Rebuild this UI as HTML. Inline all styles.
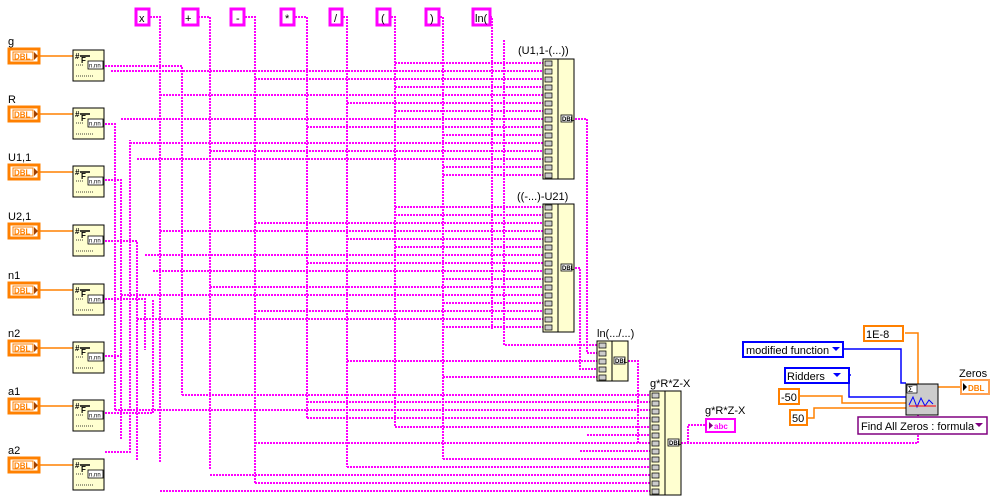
<!DOCTYPE html>
<html><head><meta charset="utf-8"><style>
body{margin:0;background:#fff;width:1001px;height:504px;overflow:hidden}
svg{display:block;font-family:"Liberation Sans",sans-serif}
.w{fill:none;stroke:#ff00ff;stroke-width:2;stroke-dasharray:2 1}
.o{fill:none;stroke:#ff8000;stroke-width:1.5}
.b{fill:none;stroke:#0000ff;stroke-width:1.5}
.cv{fill:#ffffd0;stroke:#000;stroke-width:1}
</style></head><body>
<svg width="1001" height="504" xmlns="http://www.w3.org/2000/svg" font-size="11" fill="#000">
<defs>
<g id="ctl">
<path class="o" d="M40 56H73"/>
<rect x="9" y="49" width="30" height="14" fill="#fff" stroke="#ff8000" stroke-width="3"/>
<rect x="13" y="52" width="20" height="8" fill="none" stroke="#ff8000" stroke-width="1"/>
<text x="14" y="59.5" font-size="8" font-weight="bold" fill="#ff8000">DBL</text>
<path d="M34 52l4 4-4 4z" fill="#a04000"/>
<rect x="73" y="50" width="31" height="31" class="cv"/>
<text x="75" y="59" font-size="8" font-weight="bold">#</text>
<text x="81" y="63" font-size="8" font-weight="bold">F</text>
<path d="M80 56h10" stroke="#000" stroke-width="1.5"/>
<rect x="88" y="61" width="15" height="8" fill="#fff" stroke="#000" stroke-width=".8"/>
<text x="89" y="67.5" font-size="6">n.nn</text>
<path d="M76 65h8M76 76h18" stroke="#000" stroke-width=".8" stroke-dasharray="1 1"/>
</g>
</defs>
<!-- wires -->
<g class="w">
<path d="M150 17H160V463"/>
<path d="M198 17H210V470"/>
<path d="M245 17H255V483"/>
<path d="M295 17H307V418"/>
<path d="M343 17H347V467"/>
<path d="M391 17H395V427"/>
<path d="M440 17H443V459"/>
<path d="M490 17H492V330"/>
<path d="M105 66H182V395"/>
<path d="M105 124H115V410"/>
<path d="M105 180H121V440"/>
<path d="M105 241H137V460"/>
<path d="M105 299H145V350"/>
<path d="M105 356H121"/>
<path d="M105 413H153V300"/>
<path d="M105 452H130V140"/>
<path d="M395 63H543"/><path d="M111 71H543"/><path d="M255 79H543"/><path d="M395 87H543"/>
<path d="M160 95H543"/><path d="M347 103H543"/><path d="M395 111H543"/><path d="M121 119H543"/>
<path d="M307 127H543"/><path d="M443 135H543"/><path d="M130 143H543"/><path d="M210 151H543"/>
<path d="M137 159H543"/><path d="M443 167H543"/><path d="M443 175H543"/>
<path d="M395 207H543"/><path d="M395 215H543"/><path d="M255 223H543"/><path d="M160 231H543"/>
<path d="M347 239H543"/><path d="M395 247H543"/><path d="M145 255H543"/><path d="M307 263H543"/>
<path d="M153 271H543"/><path d="M443 279H543"/><path d="M210 287H543"/><path d="M121 295H543"/>
<path d="M443 303H543"/><path d="M255 311H543"/><path d="M137 319H543"/><path d="M443 327H543"/>
<path d="M575 119H587V353H597"/>
<path d="M575 268H580V369H597"/>
<path d="M504 40V345H597"/>
<path d="M347 361H597"/><path d="M443 377H597"/>
<path d="M628 361H638V443H650"/>
<path d="M182 395H650"/><path d="M307 402H650"/><path d="M115 410H650"/><path d="M307 418H650"/>
<path d="M395 427H650"/><path d="M587 435H650"/><path d="M255 443H650"/><path d="M580 451H650"/>
<path d="M443 459H650"/><path d="M347 467H650"/><path d="M210 475H650"/><path d="M255 483H650"/><path d="M160 491H650"/>
<path d="M681 443H918V415"/>
<path d="M688 443V425H705"/>
</g>
<!-- top constants -->
<g fill="#fff" stroke="#ff00ff" stroke-width="3">
<rect x="136" y="9" width="13" height="16"/><rect x="183" y="9" width="15" height="16"/>
<rect x="231" y="9" width="13" height="16"/><rect x="281" y="9" width="13" height="16"/>
<rect x="330" y="9" width="12" height="16"/><rect x="377" y="9" width="13" height="16"/>
<rect x="426" y="9" width="13" height="16"/><rect x="473" y="9" width="17" height="16"/>
</g>
<text x="139" y="22">x</text><text x="185" y="22">+</text><text x="236" y="22">-</text>
<text x="285" y="22">*</text><text x="334" y="22">/</text><text x="381" y="22">(</text>
<text x="430" y="22">)</text><text x="475" y="22">ln(</text>
<!-- left controls -->
<text x="8" y="45">g</text><use href="#ctl"/>
<text x="8" y="103">R</text><use href="#ctl" y="58"/>
<text x="8" y="161">U1,1</text><use href="#ctl" y="116"/>
<text x="8" y="220">U2,1</text><use href="#ctl" y="175"/>
<text x="8" y="279">n1</text><use href="#ctl" y="234"/>
<text x="8" y="337">n2</text><use href="#ctl" y="292"/>
<text x="8" y="395">a1</text><use href="#ctl" y="350"/>
<text x="8" y="454">a2</text><use href="#ctl" y="409"/>
<!-- formula nodes -->
<text x="518" y="54">(U1,1-(...))</text>
<rect x="543" y="59" width="31" height="120" class="cv"/><line x1="558" y1="59" x2="558" y2="179" stroke="#000"/>
<rect x="561" y="115" width="11" height="7" fill="#fff" stroke="#000" stroke-width=".8"/><text x="562" y="121" font-size="6" font-weight="bold">DBL</text>
<text x="517" y="200">((-...)-U21)</text>
<rect x="543" y="204" width="31" height="128" class="cv"/><line x1="558" y1="204" x2="558" y2="332" stroke="#000"/>
<rect x="561" y="264" width="11" height="7" fill="#fff" stroke="#000" stroke-width=".8"/><text x="562" y="270" font-size="6" font-weight="bold">DBL</text>
<text x="597" y="337">ln(.../...)</text>
<rect x="597" y="341" width="31" height="40" class="cv"/><line x1="612" y1="341" x2="612" y2="381" stroke="#000"/>
<rect x="614" y="357" width="11" height="7" fill="#fff" stroke="#000" stroke-width=".8"/><text x="615" y="363" font-size="6" font-weight="bold">DBL</text>
<text x="650" y="387">g*R*Z-X</text>
<rect x="650" y="391" width="31" height="104" class="cv"/><line x1="665" y1="391" x2="665" y2="495" stroke="#000"/>
<rect x="668" y="439" width="11" height="7" fill="#fff" stroke="#000" stroke-width=".8"/><text x="669" y="445" font-size="6" font-weight="bold">DBL</text>
<g fill="#ccc" stroke="#000" stroke-width=".7">
<path d="M545 61h7v5h-7z M545 69h7v5h-7z M545 77h7v5h-7z M545 85h7v5h-7z M545 93h7v5h-7z M545 101h7v5h-7z M545 109h7v5h-7z M545 117h7v5h-7z M545 125h7v5h-7z M545 133h7v5h-7z M545 141h7v5h-7z M545 149h7v5h-7z M545 157h7v5h-7z M545 165h7v5h-7z M545 173h7v5h-7z"/>
<path d="M545 205h7v5h-7z M545 213h7v5h-7z M545 221h7v5h-7z M545 229h7v5h-7z M545 237h7v5h-7z M545 245h7v5h-7z M545 253h7v5h-7z M545 261h7v5h-7z M545 269h7v5h-7z M545 277h7v5h-7z M545 285h7v5h-7z M545 293h7v5h-7z M545 301h7v5h-7z M545 309h7v5h-7z M545 317h7v5h-7z M545 325h7v5h-7z"/>
<path d="M599 343h7v5h-7z M599 351h7v5h-7z M599 359h7v5h-7z M599 367h7v5h-7z M599 375h7v5h-7z"/>
<path d="M652 393h7v5h-7z M652 401h7v5h-7z M652 409h7v5h-7z M652 417h7v5h-7z M652 425h7v5h-7z M652 433h7v5h-7z M652 441h7v5h-7z M652 449h7v5h-7z M652 457h7v5h-7z M652 465h7v5h-7z M652 473h7v5h-7z M652 481h7v5h-7z M652 489h7v5h-7z"/>
</g>
<!-- indicator -->
<text x="705" y="414">g*R*Z-X</text>
<rect x="706" y="419" width="29" height="13" fill="#fff" stroke="#ff00ff" stroke-width="2"/>
<text x="714" y="429" font-size="8" font-weight="bold" fill="#ff00ff">abc</text>
<path d="M709 422l4 3.5-4 3.5z" fill="#800080"/>
<!-- right side solver -->
<path class="b" d="M843 349H901V383H906"/>
<path class="b" d="M851 375H849V397H906"/>
<path class="o" d="M905 333H918V384"/>
<path class="o" d="M799 396H842V403H906"/>
<path class="o" d="M807 418H814V408H906"/>
<path class="o" d="M938 387H960" stroke-width="2.5"/>
<rect x="743" y="342" width="100" height="15" fill="#fff" stroke="#0000ff" stroke-width="2"/>
<text x="746" y="354">modified function</text><path d="M832 347h8l-4 4z" fill="#0000ff"/>
<rect x="785" y="368" width="64" height="15" fill="#fff" stroke="#0000ff" stroke-width="2"/>
<text x="787" y="380">Ridders</text><path d="M833 373h8l-4 4z" fill="#0000ff"/>
<rect x="864" y="326" width="39" height="15" fill="#fff" stroke="#ff8000" stroke-width="2"/><text x="866" y="338">1E-8</text>
<rect x="779" y="389" width="20" height="15" fill="#fff" stroke="#ff8000" stroke-width="2"/><text x="781" y="401">-50</text>
<rect x="790" y="410" width="17" height="15" fill="#fff" stroke="#ff8000" stroke-width="2"/><text x="792" y="422">50</text>
<rect x="906" y="384" width="32" height="31" fill="#ccc" stroke="#000"/>
<rect x="907" y="385" width="10" height="8" fill="#fff" stroke="#000" stroke-width=".7"/><text x="908" y="392" font-size="8">Σ</text>
<path d="M909 405l4-8 4 10 4-9 4 8 4-6 4 4" fill="none" stroke="#00f"/>
<line x1="909" y1="406" x2="936" y2="406" stroke="#f00"/>
<text x="959" y="377">Zeros</text>
<rect x="961" y="380" width="28" height="14" fill="#fff" stroke="#ffa050" stroke-width="2"/>
<text x="968" y="391" font-size="8" font-weight="bold" fill="#ff8000">DBL</text>
<path d="M963 383l4 4-4 4z" fill="#000"/>
<rect x="858" y="417" width="129" height="17" fill="#fff" stroke="#800080" stroke-width="1.5"/>
<text x="861" y="430">Find All Zeros : formula</text><path d="M975 423h8l-4 4z" fill="#800080"/>
</svg>
</body></html>
